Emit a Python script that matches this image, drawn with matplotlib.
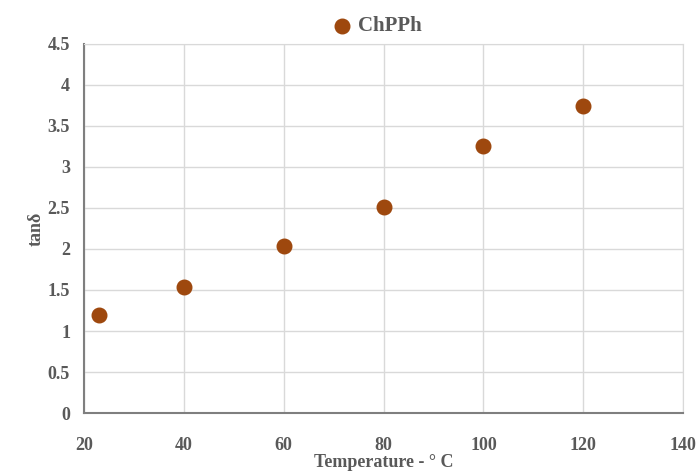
import matplotlib.pyplot as plt

temps = [23, 40, 60, 80, 100, 120]
tan_delta = [1.2, 1.54, 2.03, 2.51, 3.26, 3.74]
x_ticks = [20, 40, 60, 80, 100, 120, 140]
y_ticks = [0, 0.5, 1, 1.5, 2, 2.5, 3, 3.5, 4, 4.5]

plt.rcParams['font.family'] = ['Liberation Serif', 'DejaVu Serif']

fig = plt.figure(figsize=(7, 4.71), dpi=100)
ax = fig.add_axes([0.12, 0.123, 0.856, 0.784])

ax.scatter(temps, tan_delta, s=110, color='#9E480E', zorder=3, label='ChPPh')

ax.set_xlim(20, 140)
ax.set_ylim(0, 4.5)
ax.set_xticks(x_ticks)
ax.set_yticks(y_ticks)
ax.set_xticklabels([str(t) for t in x_ticks])
ax.set_yticklabels(['0', '0.5', '1', '1.5', '2', '2.5', '3', '3.5', '4', '4.5'])
ax.tick_params(length=0, labelsize=13, colors='#595959')
ax.tick_params(axis='x', pad=17)
ax.tick_params(axis='y', pad=10)
for lbl in ax.get_xticklabels() + ax.get_yticklabels():
    lbl.set_fontweight('bold')

ax.grid(True, color='#D9D9D9', linewidth=1)
ax.set_axisbelow(True)
for side in ['top', 'right']:
    ax.spines[side].set_color('#D9D9D9')
for side in ['left', 'bottom']:
    ax.spines[side].set_color('#7F7F7F')
    ax.spines[side].set_linewidth(1.5)

ax.set_xlabel('Temperature - ° C', fontsize=13, fontweight='bold', color='#595959', labelpad=0)
ax.set_ylabel('tanδ', fontsize=13, fontweight='bold', color='#595959', labelpad=2)

leg = ax.legend(loc='center', bbox_to_anchor=(0.48, 1.048), frameon=False,
                handletextpad=-0.2, prop={'size': 15, 'weight': 'bold'}, markerscale=1.0)
for t in leg.get_texts():
    t.set_color('#595959')

fig.savefig('out.png', dpi=100)
